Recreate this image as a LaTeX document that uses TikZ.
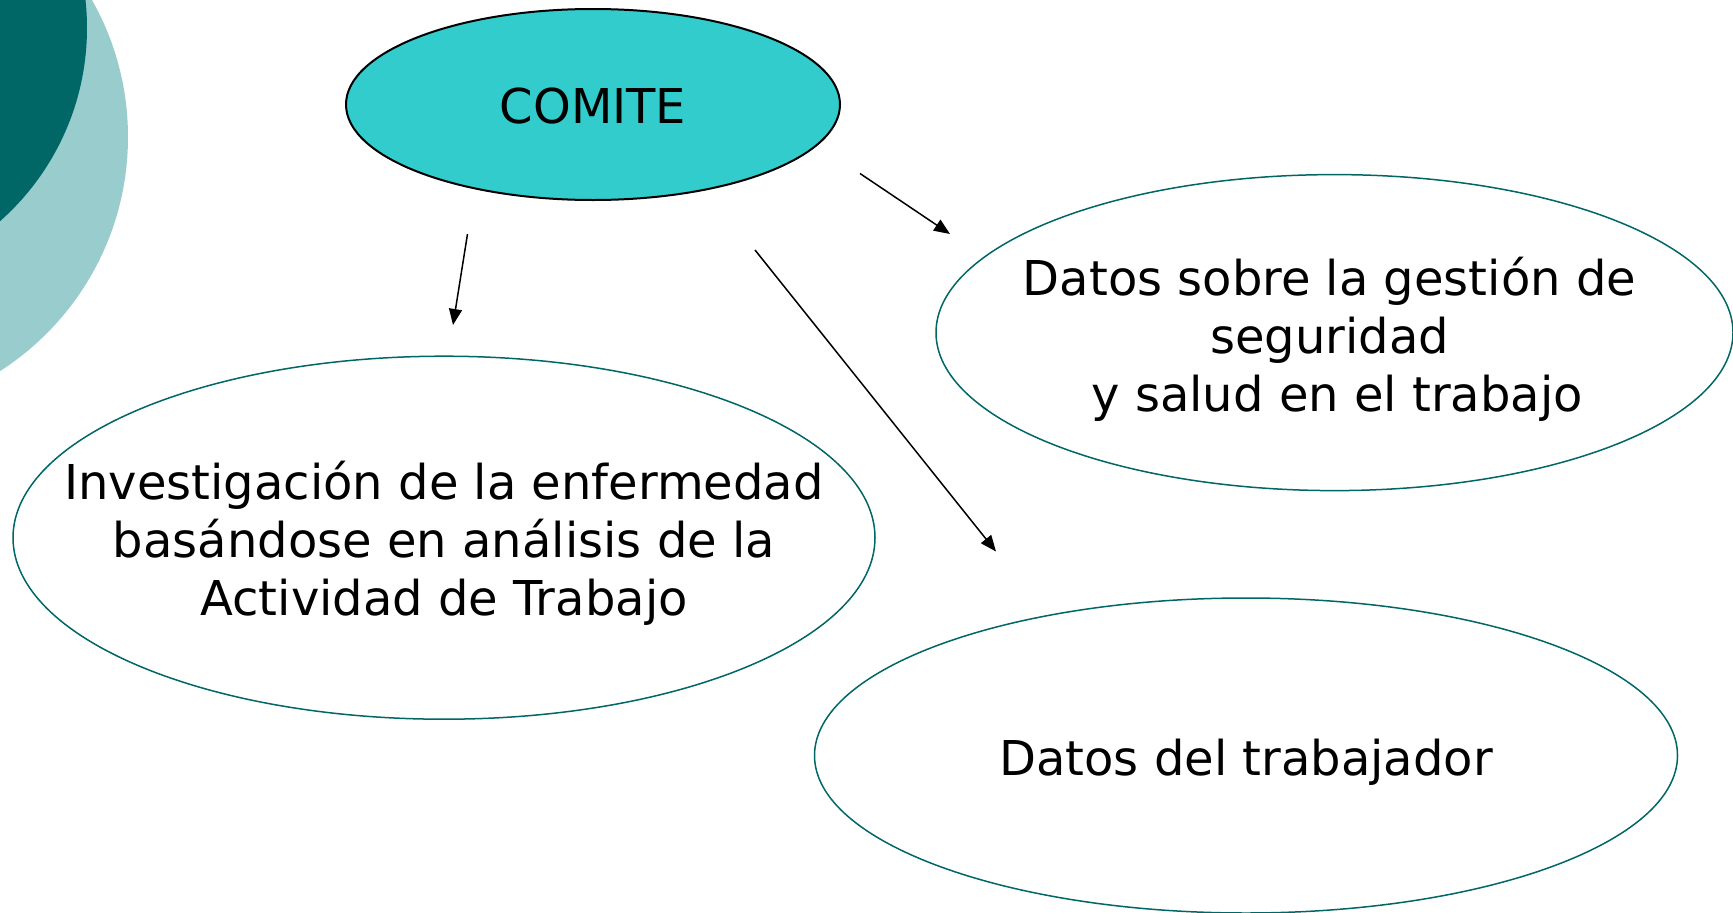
\documentclass[tikz,border=0pt]{standalone}
\usepackage{fontspec}
\setmainfont{DejaVu Sans}
\usetikzlibrary{shapes.geometric,arrows.meta}
\definecolor{darkteal}{RGB}{0,102,102}
\definecolor{lightteal}{RGB}{153,204,204}
\definecolor{comitefill}{RGB}{51,204,204}
\begin{document}
\begin{tikzpicture}[x=1pt,y=-1pt,
  oval/.style={ellipse,draw=darkteal,line width=1.5pt,inner sep=0pt},
  lbl/.style={align=center,inner sep=0pt,font=\fontsize{48}{58}\selectfont},
  conn/.style={line width=1.5pt,-{Triangle[length=16pt,width=13pt]}}]
\useasboundingbox (0,0) rectangle (1733,913);
\begin{scope}
\clip (0,0) rectangle (1733,913);
\fill[lightteal] (-150,137) circle[radius=278];
\fill[darkteal] (-171,28) circle[radius=258];
\end{scope}
\node[oval,fill=comitefill,draw=black,line width=2pt,minimum width=494,minimum height=191] (comite) at (593,104.5) {};
\node[oval,minimum width=797,minimum height=316] (gestion) at (1334.5,332.6) {};
\node[oval,minimum width=862,minimum height=363] (invest) at (444,537.7) {};
\node[oval,minimum width=863,minimum height=315] (trab) at (1246,755.5) {};
\node[lbl] (tcomite) at ([yshift=-2pt]comite.center) {COMITE};
\node[lbl] (tgestion) at ([xshift=-5pt,yshift=-7pt]gestion.center) {Datos sobre la gestión de\\seguridad\\\hspace*{0.32em}y salud en el trabajo};
\node[lbl] (tinvest) at ([yshift=-6pt]invest.center) {Investigación de la enfermedad\\basándose en análisis de la\\Actividad de Trabajo};
\node[lbl] (ttrab) at ([yshift=-7pt]trab.center) {Datos del trabajador};
\coordinate (a1s) at (467.5,234); \coordinate (a1e) at (453,325);
\coordinate (a2s) at (860,173.5); \coordinate (a2e) at (950,234);
\coordinate (a3s) at (755,250); \coordinate (a3e) at (996,551.5);
\draw[conn] (a1s) -- (a1e);
\draw[conn] (a2s) -- (a2e);
\draw[conn] (a3s) -- (a3e);
\end{tikzpicture}
\end{document}
